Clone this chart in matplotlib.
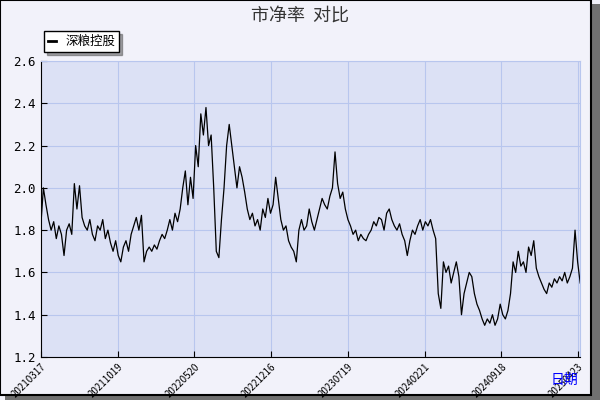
import matplotlib.pyplot as plt
from matplotlib.patches import Rectangle

plt.rcParams['font.family'] = ['Noto Sans CJK SC', 'DejaVu Sans']

title = "市净率  对比"
series_name = "深粮控股"
tick_labels = ["20210317", "20211019", "20220520", "20221216",
               "20230719", "20240221", "20240918", "20250423"]
pb = [
    1.82, 2.00, 1.92, 1.85, 1.80, 1.84, 1.76, 1.82, 1.78, 1.68, 1.80, 1.83,
    1.78, 2.02, 1.90, 2.01, 1.86, 1.82, 1.80, 1.85, 1.78, 1.75, 1.82, 1.80,
    1.85, 1.76, 1.80, 1.74, 1.70, 1.75, 1.68, 1.65, 1.72, 1.75, 1.70, 1.78,
    1.82, 1.86, 1.80, 1.87, 1.65, 1.70, 1.72, 1.70, 1.73, 1.71, 1.75, 1.78,
    1.76, 1.80, 1.85, 1.80, 1.88, 1.84, 1.90, 2.00, 2.08, 1.92, 2.05, 1.95,
    2.20, 2.10, 2.35, 2.25, 2.38, 2.20, 2.25, 2.00, 1.70, 1.67, 1.85, 2.00,
    2.20, 2.30, 2.20, 2.10, 2.00, 2.10, 2.05, 1.98, 1.90, 1.85, 1.88, 1.82,
    1.85, 1.80, 1.90, 1.86, 1.95, 1.88, 1.92, 2.05, 1.95, 1.85, 1.80, 1.82,
    1.75, 1.72, 1.70, 1.65, 1.80, 1.85, 1.80, 1.82, 1.90, 1.84, 1.80, 1.85,
    1.90, 1.95, 1.92, 1.90, 1.96, 2.00, 2.17, 2.02, 1.95, 1.98, 1.90, 1.85,
    1.82, 1.78, 1.80, 1.75, 1.78, 1.76, 1.75, 1.78, 1.80, 1.84, 1.82, 1.86,
    1.85, 1.80, 1.88, 1.90, 1.85, 1.82, 1.80, 1.83, 1.78, 1.75, 1.68, 1.75,
    1.80, 1.78, 1.82, 1.85, 1.80, 1.84, 1.82, 1.85, 1.80, 1.76, 1.50, 1.43,
    1.65, 1.60, 1.63, 1.55, 1.60, 1.65, 1.58, 1.40, 1.50, 1.55, 1.60, 1.58,
    1.50, 1.45, 1.42, 1.38, 1.35, 1.38, 1.36, 1.40, 1.35, 1.38, 1.45, 1.40,
    1.38, 1.42, 1.50, 1.65, 1.60, 1.70, 1.63, 1.65, 1.60, 1.72, 1.68, 1.75,
    1.62, 1.58, 1.55, 1.52, 1.50, 1.55, 1.53, 1.57, 1.55, 1.58, 1.56, 1.60,
    1.55, 1.58, 1.62, 1.80, 1.65, 1.55,
]

fig = plt.figure(figsize=(6, 4), dpi=100, facecolor="#f2f2fa")
# frame with shadow
fig.patches.append(Rectangle((0.008, 0.0), 0.992, 0.99, transform=fig.transFigure,
                             facecolor="#707070", edgecolor="none", zorder=-2))
fig.patches.append(Rectangle((0.0, 0.012), 0.985, 0.988, transform=fig.transFigure,
                             facecolor="#f2f2fa", edgecolor="black", lw=1.5, zorder=-1))

ax = fig.add_axes([0.068, 0.1075, 0.899, 0.74])
ax.set_facecolor("#dce1f5")
n = len(pb)
x = list(range(n))
ax.plot(x, pb, color="black", lw=0.9)
ax.set_xlim(0, n - 1)
ax.set_ylim(1.2, 2.6)
ax.set_yticks([1.2, 1.4, 1.6, 1.8, 2.0, 2.2, 2.4, 2.6])
ax.set_yticklabels([f"{v:.1f}" for v in ax.get_yticks()], fontsize=9, family="DejaVu Sans Mono")
ticks = [(n - 1) * i / 7 * 537 / 539 for i in range(8)]
ax.set_xticks(ticks)
ax.set_xticklabels(tick_labels, rotation=45, ha="right", rotation_mode="anchor", fontsize=7)
ax.grid(color="#b8c6ee", lw=0.8)
ax.tick_params(direction="in", length=4)
for s in ["top", "right"]:
    ax.spines[s].set_color("#b8c6ee")

fig.text(0.5, 0.96, title, ha="center", va="center", fontsize=13, color="#333333")
fig.text(0.94, 0.05, "日期", color="blue", fontsize=10, ha="center", va="center")

leg = ax.legend([series_name], loc="lower left", bbox_to_anchor=(-0.005, 1.01),
                fontsize=9, fancybox=False, edgecolor="black", handlelength=0.6,
                borderpad=0.3, shadow=True, framealpha=1)
for h in leg.get_lines():
    h.set_linewidth(2)

fig.savefig("out.png", dpi=100, facecolor=fig.get_facecolor())
